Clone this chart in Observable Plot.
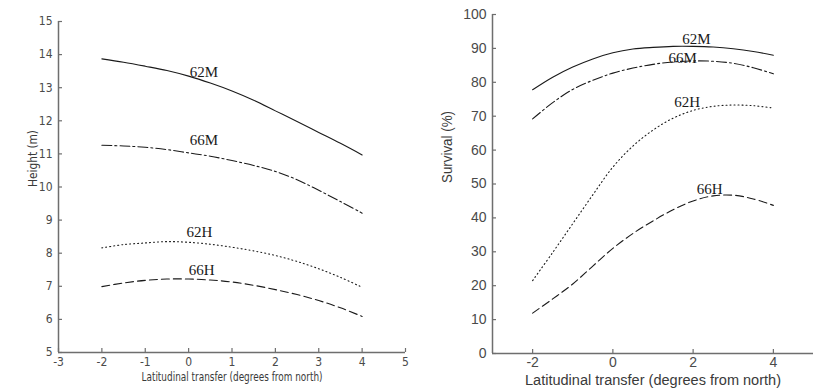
<!DOCTYPE html>
<html>
<head>
<meta charset="utf-8">
<script src="https://cdn.jsdelivr.net/npm/d3@7"></script>
<script src="https://cdn.jsdelivr.net/npm/@observablehq/plot@0.6"></script>
<style>
  body { margin: 0; background: #fff; }
  #wrap { position: relative; width: 823px; height: 391px; overflow: hidden; background: #fff; }
  #left { position: absolute; left: 0; top: 0; }
  #right { position: absolute; left: 410px; top: 0; }
</style>
</head>
<body>
<div id="wrap"><div id="left"></div><div id="right"></div></div>
<script>
// Shared x positions (latitudinal transfer, degrees from north)
const transfer = [-2, -1.5, -1, -0.5, 0, 0.5, 1, 1.5, 2, 2.5, 3, 3.5, 4];

// Left panel: Height (m)
const height62M = [13.87, 13.77, 13.65, 13.52, 13.35, 13.14, 12.9, 12.62, 12.3, 11.98, 11.65, 11.32, 10.97];
const height66M = [11.26, 11.24, 11.2, 11.13, 11.03, 10.93, 10.8, 10.65, 10.47, 10.22, 9.9, 9.56, 9.21];
const height62H = [8.16, 8.26, 8.31, 8.35, 8.33, 8.27, 8.18, 8.07, 7.93, 7.75, 7.53, 7.27, 6.97];
const height66H = [6.99, 7.1, 7.18, 7.22, 7.22, 7.19, 7.13, 7.03, 6.9, 6.75, 6.57, 6.35, 6.09];

// Right panel: Survival (%)
const survival62M = [77.8, 81.5, 84.5, 86.9, 88.7, 89.8, 90.3, 90.6, 90.6, 90.4, 89.9, 89.1, 88.0];
const survival66M = [69.2, 74.0, 77.9, 80.6, 82.7, 84.2, 85.3, 86.0, 86.3, 86.2, 85.6, 84.3, 82.5];
const survival62H = [21.5, 29.8, 38.3, 46.8, 55.0, 61.2, 65.9, 69.4, 71.7, 72.9, 73.3, 73.1, 72.4];
const survival66H = [11.9, 16.1, 20.5, 25.8, 31.0, 35.4, 39.1, 42.4, 45.0, 46.5, 46.7, 45.6, 43.7];

// Series labels and where they sit
const seriesNames = ["62M", "66M", "62H", "66H"];
const leftLabelX = [0.35, 0.35, 0.25, 0.3];
const leftLabelY = [13.47, 11.4, 8.63, 7.48];
const rightLabelX = [2.08, 1.74, 1.85, 2.41];
const rightLabelY = [92.8, 87.2, 74.1, 48.6];

// Ticks
const leftXTicks = [-3, -2, -1, 0, 1, 2, 3, 4, 5];
const leftYTicks = [5, 6, 7, 8, 9, 10, 11, 12, 13, 14, 15];
const rightXTicks = [-2, 0, 2, 4];
const rightYTicks = [0, 10, 20, 30, 40, 50, 60, 70, 80, 90, 100];

const xTitle = "Latitudinal transfer (degrees from north)";
const leftYTitle = "Height (m)";
const rightYTitle = "Survival (%)";

const dashes = [null, "10,3,2,3", "1,3", "8,4"];
const lineColor = "#1a1a1a";
const axisColor = "#6e6e6e";
const tickTextColor = "#4a4a4a";
const fmt = d => String(d);

function rows(values) { return transfer.map((x, i) => ({x, y: values[i]})); }
function labelRows(xs, ys) { return seriesNames.map((n, i) => ({name: n, x: xs[i], y: ys[i]})); }

function panel(opts) {
  const series = opts.series;
  return Plot.plot({
    width: opts.width,
    height: 391,
    marginLeft: opts.ml, marginRight: opts.mr, marginTop: opts.mt, marginBottom: opts.mb,
    style: {fontFamily: opts.font, fontSize: opts.fontSize + "px", color: tickTextColor, background: "#fff"},
    x: {domain: [-3, 5]},
    y: {domain: opts.yDomain},
    marks: [
      Plot.ruleX([-3], {stroke: axisColor, strokeWidth: 1.5}),
      Plot.ruleY([opts.yDomain[0]], {stroke: axisColor, strokeWidth: 1.5}),
      Plot.axisX({ticks: opts.xTicks, tickSize: -4, stroke: axisColor, strokeWidth: 1.2, text: null, label: null}),
      Plot.axisY({ticks: opts.yTicks, tickSize: -4, stroke: axisColor, strokeWidth: 1.2, text: null, label: null}),
      Plot.axisX({ticks: opts.xTicks, tickFormat: fmt, tickSize: 0, tickPadding: opts.xPad, label: null, fill: tickTextColor, fontSize: opts.fontSize}),
      Plot.axisY({ticks: opts.yTicks, tickFormat: fmt, tickSize: 0, tickPadding: opts.yPad, label: null, fill: tickTextColor, fontSize: opts.fontSize}),
      ...series.map((vals, i) => Plot.line(rows(vals), {x: "x", y: "y", curve: "catmull-rom", stroke: lineColor, strokeWidth: 1.1, strokeDasharray: dashes[i]})),
      Plot.text(labelRows(opts.labelX, opts.labelY), {x: "x", y: "y", text: "name", fontFamily: "Liberation Serif, Times New Roman, serif", fontSize: 15, fill: "#1a1a1a"}),
      Plot.text([xTitle], {frameAnchor: "bottom", dy: opts.xTitleDy, fontSize: opts.titleSize, fill: "#3a3a3a"}),
      Plot.text([opts.yTitle], {frameAnchor: "left", dx: opts.yTitleDx, dy: opts.yTitleDy, rotate: -90, fontSize: opts.titleSize, fill: "#3a3a3a"})
    ]
  });
}

function condense(svg, lengths) {
  svg.querySelectorAll("text").forEach(t => {
    const s = t.textContent;
    if (s in lengths) {
      t.setAttribute("textLength", lengths[s]);
      t.setAttribute("lengthAdjust", "spacingAndGlyphs");
    }
  });
}

const leftSvg = panel({
  width: 410, ml: 58, mr: 5, mt: 21, mb: 39,
  font: "'Liberation Sans Narrow', 'DejaVu Sans Condensed', 'Liberation Sans', Arial, sans-serif",
  fontSize: 12, titleSize: 13, xPad: 5, yPad: 6,
  yDomain: [5, 15], xTicks: leftXTicks, yTicks: leftYTicks,
  series: [height62M, height66M, height62H, height66H],
  labelX: leftLabelX, labelY: leftLabelY,
  xTitleDy: 28, yTitle: leftYTitle, yTitleDx: -26, yTitleDy: 0
});
condense(leftSvg, {[xTitle]: 181, [leftYTitle]: 57});
document.getElementById("left").appendChild(leftSvg);

const rightSvg = panel({
  width: 413, ml: 82, mr: 10, mt: 14, mb: 38,
  font: "'Liberation Sans', Arial, sans-serif",
  fontSize: 14, titleSize: 14, xPad: 4, yPad: 6,
  yDomain: [0, 100], xTicks: rightXTicks, yTicks: rightYTicks,
  series: [survival62M, survival66M, survival62H, survival66H],
  labelX: rightLabelX, labelY: rightLabelY,
  xTitleDy: 31, yTitle: rightYTitle, yTitleDx: -45, yTitleDy: -1
});
condense(rightSvg, {[xTitle]: 256, [rightYTitle]: 72});
document.getElementById("right").appendChild(rightSvg);
</script>
</body>
</html>
